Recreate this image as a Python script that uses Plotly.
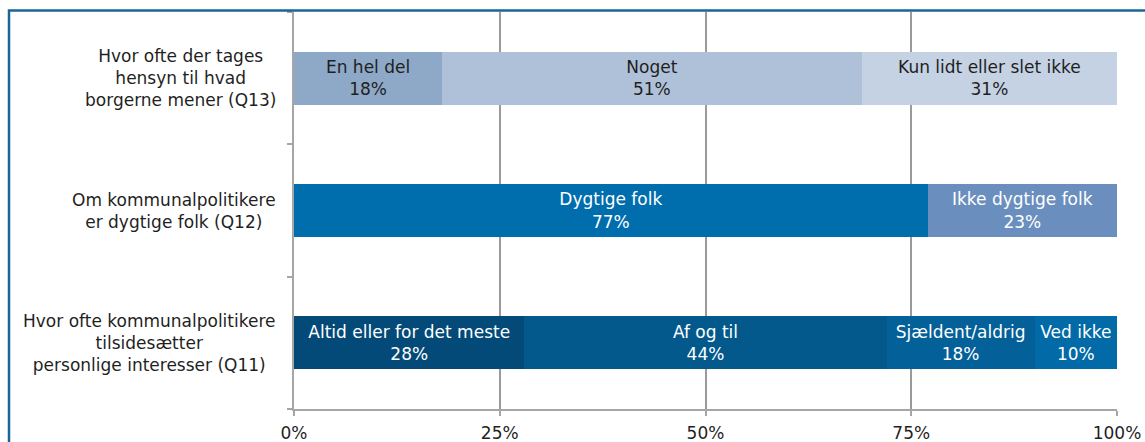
import plotly.graph_objects as go

# Categories (bottom to top in plot order)
categories = ["Q11", "Q12", "Q13"]
category_labels = {
    "Q13": "Hvor ofte der tages<br>hensyn til hvad<br>borgerne mener (Q13)",
    "Q12": "Om kommunalpolitikere<br>er dygtige folk (Q12)",
    "Q11": "Hvor ofte kommunalpolitikere<br>tilsidesætter<br>personlige interesser (Q11)",
}

q13_names = ["En hel del", "Noget", "Kun lidt eller slet ikke"]
q13_values = [18, 51, 31]
q13_colors = ["#8EA8C7", "#AFC1D9", "#C5D2E3"]

q12_names = ["Dygtige folk", "Ikke dygtige folk"]
q12_values = [77, 23]
q12_colors = ["#006EAD", "#6A8FBE"]

q11_names = ["Altid eller for det meste", "Af og til", "Sjældent/aldrig", "Ved ikke"]
q11_values = [28, 44, 18, 10]
q11_colors = ["#034A78", "#03598C", "#036099", "#016AA7"]

x_ticks = [0, 25, 50, 75, 100]
x_ticktext = ["0%", "25%", "50%", "75%", "100%"]

FONT = "DejaVu Sans"
FS = 17

fig = go.Figure()

def add_series(cat, names, values, colors, txtcolor):
    for n, v, c in zip(names, values, colors):
        fig.add_trace(go.Bar(
            y=[cat], x=[v], orientation="h", name=n,
            marker=dict(color=c, line=dict(width=0)),
            text=[f"{n}<br>{v}%"], textposition="inside",
            insidetextanchor="middle", constraintext="none",
            textfont=dict(family=FONT, size=FS, color=txtcolor),
            showlegend=False, hoverinfo="skip",
        ))

add_series("Q13", q13_names, q13_values, q13_colors, "#1f1f1f")
add_series("Q12", q12_names, q12_values, q12_colors, "#ffffff")
add_series("Q11", q11_names, q11_values, q11_colors, "#ffffff")

for cat in categories:
    fig.add_annotation(
        x=0, xref="paper", xanchor="right", xshift=-16,
        y=cat, yref="y", yanchor="middle",
        text=category_labels[cat], align="center", showarrow=False,
        font=dict(family=FONT, size=FS, color="#1f1f1f"),
    )

# outer frame
fig.add_shape(type="rect", xref="paper", yref="paper",
              x0=-0.3463, x1=1.06, y0=-0.1, y1=1.004,
              line=dict(color="#1A6496", width=2.5), fillcolor="rgba(0,0,0,0)",
              layer="above")

fig.update_layout(
    width=1145, height=442, autosize=False,
    barmode="stack", bargap=0.6,
    plot_bgcolor="white", paper_bgcolor="white",
    margin=dict(l=294, r=28, t=12, b=33, autoexpand=False),
    font=dict(family=FONT, size=FS, color="#1f1f1f"),
    xaxis=dict(
        range=[0, 100], tickvals=x_ticks, ticktext=x_ticktext,
        showgrid=True, gridcolor="#9A9A9A", gridwidth=2,
        zeroline=False, showline=True, linecolor="#A6A6A6", linewidth=2,
        ticks="outside", ticklen=5, tickcolor="#A6A6A6", tickwidth=2,
        ticklabelstandoff=3,
        tickfont=dict(family=FONT, size=FS, color="#1f1f1f"),
        fixedrange=True, automargin=False,
    ),
    yaxis=dict(
        type="category", categoryorder="array", categoryarray=categories,
        showticklabels=False, tickson="boundaries",
        ticks="outside", ticklen=5, tickcolor="#A6A6A6", tickwidth=2,
        showline=True, linecolor="#A6A6A6", linewidth=2,
        showgrid=False, zeroline=False, fixedrange=True, automargin=False,
    ),
)

fig.write_html("out.html",
               config={"displayModeBar": False, "responsive": False},
               post_script="document.body.style.margin='0';document.body.style.overflow='hidden';")
